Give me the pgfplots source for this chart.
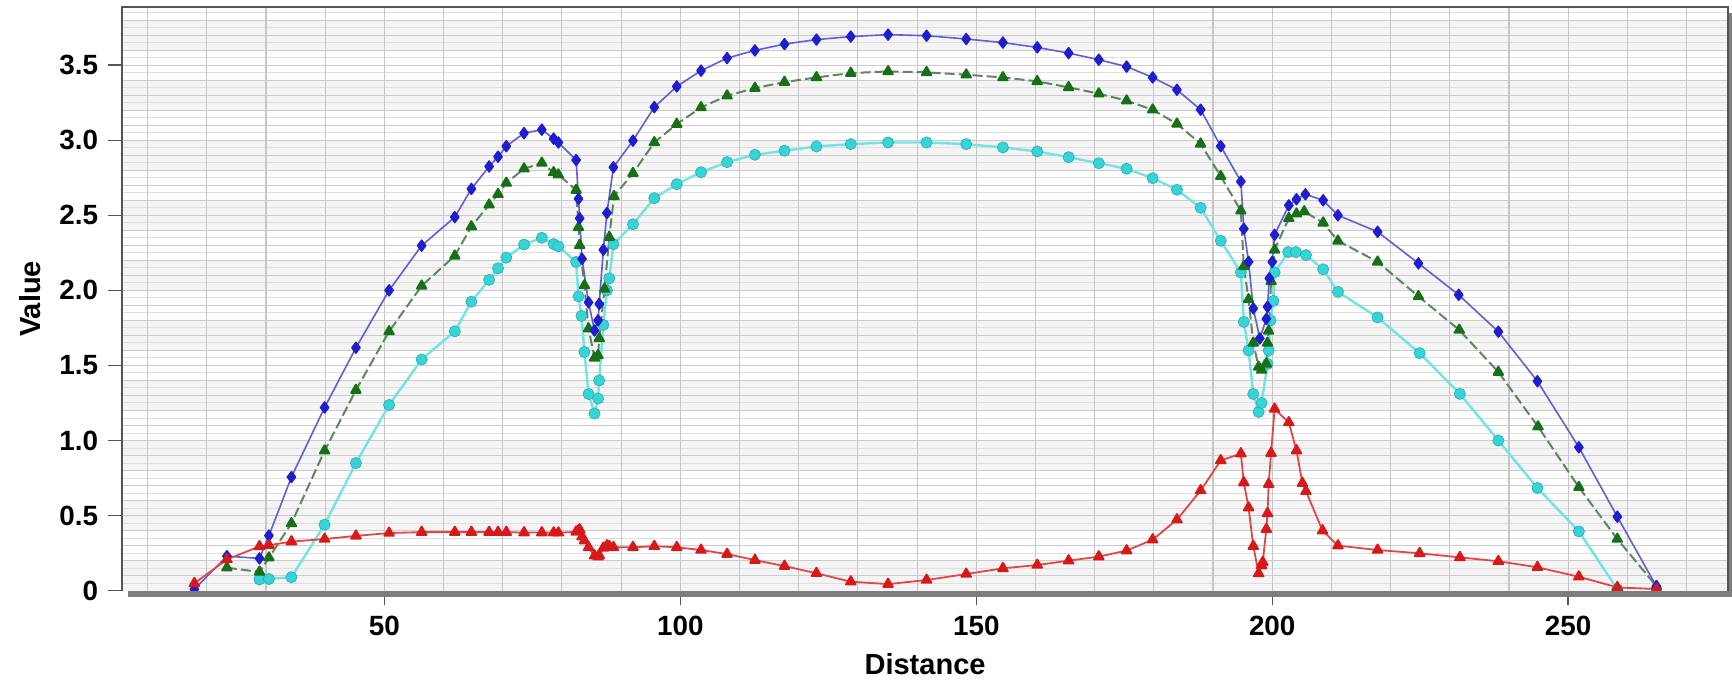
\documentclass[border=0pt]{standalone}
\usepackage{fontspec}
\setmainfont{Liberation Sans}
\usepackage{pgfplots}
\pgfplotsset{compat=1.18}
\usepackage{pgfplotstable}

\definecolor{blueLine}{RGB}{95,95,220}
\definecolor{blueMark}{RGB}{30,30,205}
\definecolor{greenLine}{RGB}{95,135,95}
\definecolor{greenMark}{RGB}{25,110,25}
\definecolor{cyanLine}{RGB}{115,228,228}
\definecolor{cyanMark}{RGB}{55,212,215}
\definecolor{redLine}{RGB}{228,70,70}
\definecolor{redMark}{RGB}{215,25,25}
\definecolor{bandgray}{RGB}{244,244,244}
\definecolor{framegray}{RGB}{85,85,85}
\definecolor{shadowgray}{RGB}{125,125,125}

% Profile values along the section
\pgfplotstableread{
x y
17.9 0.01
23.4 0.23
28.9 0.215
30.5 0.367
34.3 0.757
39.9 1.22
45.2 1.618
50.8 2.0
56.3 2.298
61.9 2.488
64.7 2.676
67.7 2.825
69.2 2.89
70.6 2.96
73.6 3.047
76.6 3.07
78.6 3.01
79.4 2.985
82.4 2.868
82.8 2.61
83.0 2.48
83.4 2.21
84.5 1.92
85.5 1.733
86.1 1.80
86.3 1.91
87.0 2.27
87.6 2.515
88.7 2.82
92.0 2.997
95.6 3.22
99.4 3.358
103.5 3.463
107.9 3.547
112.6 3.598
117.6 3.64
123.0 3.67
128.8 3.69
135.1 3.703
141.6 3.696
148.3 3.674
154.5 3.65
160.3 3.618
165.6 3.58
170.7 3.536
175.4 3.49
179.8 3.418
183.9 3.336
187.9 3.203
191.3 2.96
194.7 2.725
195.2 2.41
196.0 2.19
196.8 1.88
197.9 1.68
199.0 1.81
199.2 1.89
199.5 2.08
200.0 2.19
200.4 2.37
202.8 2.566
204.1 2.607
205.6 2.64
208.6 2.60
211.1 2.50
217.8 2.39
224.7 2.18
231.5 1.97
238.2 1.725
244.8 1.395
251.8 0.955
258.3 0.493
264.9 0.029
}\seriesA

\pgfplotstableread{
x y
23.4 0.153
28.9 0.125
30.5 0.22
34.3 0.448
39.9 0.932
45.2 1.336
50.8 1.726
56.3 2.03
61.9 2.23
64.7 2.425
67.7 2.57
69.2 2.64
70.6 2.715
73.6 2.81
76.6 2.848
78.6 2.785
79.4 2.77
82.4 2.668
82.8 2.42
83.0 2.30
83.8 2.033
84.5 1.745
85.5 1.55
86.1 1.567
86.3 1.68
87.2 2.01
88.0 2.355
88.8 2.627
92.0 2.78
95.6 2.985
99.4 3.107
103.5 3.218
107.9 3.296
112.6 3.347
117.6 3.387
123.0 3.418
128.8 3.447
135.1 3.458
141.6 3.452
148.3 3.436
154.5 3.418
160.3 3.392
165.6 3.352
170.7 3.31
175.4 3.263
179.8 3.203
183.9 3.109
187.9 2.976
191.3 2.76
194.7 2.53
195.2 2.16
196.0 1.94
196.8 1.65
197.7 1.49
198.2 1.47
199.0 1.51
199.2 1.65
199.4 1.73
199.8 2.06
200.4 2.27
202.8 2.48
204.1 2.51
205.4 2.525
208.6 2.45
211.1 2.33
217.8 2.19
224.7 1.96
231.6 1.736
238.2 1.456
244.9 1.093
251.8 0.689
258.3 0.344
264.9 0.03
}\seriesB

\pgfplotstableread{
x y
28.9 0.075
30.5 0.078
34.3 0.09
39.9 0.44
45.2 0.85
50.8 1.237
56.3 1.54
61.9 1.727
64.7 1.925
67.7 2.07
69.2 2.147
70.6 2.218
73.6 2.305
76.6 2.35
78.6 2.308
79.4 2.293
82.4 2.19
82.8 1.96
83.3 1.83
83.8 1.59
84.5 1.31
85.5 1.18
86.1 1.28
86.3 1.40
87.0 1.77
87.6 2.0
88.0 2.08
88.7 2.307
92.0 2.44
95.6 2.614
99.4 2.707
103.5 2.787
107.9 2.854
112.6 2.903
117.6 2.93
123.0 2.958
128.8 2.974
135.1 2.985
141.6 2.985
148.3 2.974
154.5 2.952
160.3 2.925
165.6 2.887
170.7 2.847
175.4 2.81
179.8 2.747
183.9 2.67
187.9 2.55
191.3 2.33
194.7 2.12
195.2 1.79
196.0 1.60
196.8 1.31
197.7 1.19
198.2 1.25
199.2 1.51
199.4 1.60
199.7 1.80
200.2 1.93
200.4 2.12
202.7 2.255
204.0 2.255
205.7 2.235
208.6 2.14
211.1 1.99
217.8 1.82
224.9 1.582
231.7 1.311
238.2 1.0
244.8 0.684
251.8 0.395
258.3 0.01
}\seriesC

\pgfplotstableread{
x y
17.9 0.049
23.4 0.208
28.9 0.295
30.5 0.303
34.3 0.327
39.9 0.344
45.2 0.365
50.8 0.384
56.3 0.39
61.9 0.39
64.7 0.39
67.7 0.39
69.2 0.39
70.6 0.39
73.6 0.387
76.6 0.387
78.6 0.386
79.4 0.386
82.4 0.392
82.8 0.40
83.0 0.407
83.4 0.36
83.8 0.333
84.5 0.289
85.5 0.233
86.1 0.226
86.3 0.235
87.0 0.285
87.6 0.30
88.0 0.296
88.7 0.289
92.0 0.289
95.6 0.296
99.4 0.289
103.5 0.271
107.9 0.244
112.6 0.204
117.6 0.164
123.0 0.116
128.8 0.06
135.1 0.044
141.6 0.071
148.3 0.111
154.5 0.149
160.3 0.171
165.6 0.20
170.7 0.227
175.4 0.267
179.8 0.34
183.9 0.473
187.9 0.667
191.3 0.867
194.7 0.913
195.2 0.72
196.0 0.553
196.8 0.297
197.7 0.115
198.2 0.167
198.4 0.19
199.0 0.41
199.2 0.515
199.4 0.71
199.8 0.916
200.4 1.21
202.8 1.12
204.1 0.933
205.1 0.716
205.7 0.662
208.5 0.40
211.1 0.30
217.8 0.271
224.9 0.249
231.7 0.222
238.2 0.196
244.8 0.156
251.8 0.093
258.3 0.022
264.9 0.011
}\seriesD

\begin{document}
\begin{tikzpicture}
\begin{axis}[
  name=ax,
  set layers=standard,
  scale only axis,
  width=802bp, height=291.5bp,
  xmin=5.7, xmax=277, ymin=0, ymax=3.887,
  axis line style={draw=none},
  axis background/.style={fill=white},
  xtick={50,100,150,200,250},
  ytick={0,0.5,1,1.5,2,2.5,3,3.5},
  yticklabels={0,0.5,1.0,1.5,2.0,2.5,3.0,3.5},
  tick pos=left,
  tick align=outside,
  major tick length=7bp,
  tick style={framegray, line width=0.7bp},
  minor ytick={0.05,0.15,0.25,0.35,0.45,0.55,0.65,0.75,0.85,0.95,1.05,1.15,1.25,1.35,1.45,1.55,1.65,1.75,1.85,1.95,2.05,2.15,2.25,2.35,2.45,2.55,2.65,2.75,2.85,2.95,3.05,3.15,3.25,3.35,3.45,3.55,3.65,3.75,3.85},
  minor tick length=0pt,
  yminorgrids,
  minor grid style={gray!25, line width=0.5bp},
  extra x ticks={10,20,30,40,50,60,70,80,90,100,110,120,130,140,150,160,170,180,190,200,210,220,230,240,250,260,270},
  extra x tick labels={},
  extra x tick style={grid=major, major tick length=0pt, major grid style={gray!45, line width=0.55bp}},
  extra y ticks={0.1,0.2,0.3,0.4,0.5,0.6,0.7,0.8,0.9,1.0,1.1,1.2,1.3,1.4,1.5,1.6,1.7,1.8,1.9,2.0,2.1,2.2,2.3,2.4,2.5,2.6,2.7,2.8,2.9,3.0,3.1,3.2,3.3,3.4,3.5,3.6,3.7,3.8},
  extra y tick labels={},
  extra y tick style={grid=major, major tick length=0pt, major grid style={gray!40, line width=0.55bp}},
  /pgf/number format/assume math mode=true,
  ticklabel style={font=\bfseries\fontsize{13.9bp}{15bp}\selectfont},
  xticklabel style={anchor=center, yshift=-10.5bp},
  yticklabel style={anchor=east, xshift=-1.5bp},
  xlabel={Distance},
  ylabel={Value},
  label style={font=\bfseries\fontsize{14.5bp}{16bp}\selectfont},
  xlabel style={at={(axis description cs:0.5,-0.126)}, anchor=center},
  ylabel style={at={(axis description cs:-0.0573,0.5)}, anchor=center, rotate=0},
  every axis plot/.append style={line join=round},
]
\begin{pgfonlayer}{axis background}
\pgfplotsinvokeforeach{0,...,9}{
  \fill[bandgray] (axis cs:5.7,{0.4*#1}) rectangle (axis cs:277,{0.4*#1+0.2});
}
\end{pgfonlayer}

\addplot[cyanLine, line width=1.2bp, mark=*, mark size=2.8bp,
  mark options={fill=cyanMark, draw=cyanMark!80!black, line width=0.3bp}]
  table[x=x,y=y] {\seriesC};
\addplot[greenLine, line width=1bp, dash pattern=on 5bp off 2bp, mark=triangle*, mark size=2.7bp,
  mark options={solid, fill=greenMark, draw=greenMark}]
  table[x=x,y=y] {\seriesB};
\addplot[blueLine, line width=0.8bp, mark=diamond*, mark size=2.7bp,
  mark options={fill=blueMark, draw=blueMark}]
  table[x=x,y=y] {\seriesA};
\addplot[redLine, line width=0.9bp, mark=triangle*, mark size=2.8bp,
  mark options={fill=redMark, draw=redMark}]
  table[x=x,y=y] {\seriesD};
\end{axis}
% frame with drop shadow on the lower and right edges
\fill[shadowgray] ([xshift=3bp,yshift=-3bp]ax.south west) rectangle ([xshift=2bp]ax.south east);
\fill[shadowgray] ([yshift=-3bp]ax.north east) rectangle ([xshift=2bp,yshift=-3bp]ax.south east);
\draw[framegray, line width=0.7bp] (ax.south west) -- (ax.north west) -- (ax.north east) -- (ax.south east);
\path[use as bounding box] ([xshift=-61bp,yshift=-46.5bp]ax.south west) rectangle ([xshift=2bp,yshift=3.5bp]ax.north east);
\end{tikzpicture}
\end{document}
